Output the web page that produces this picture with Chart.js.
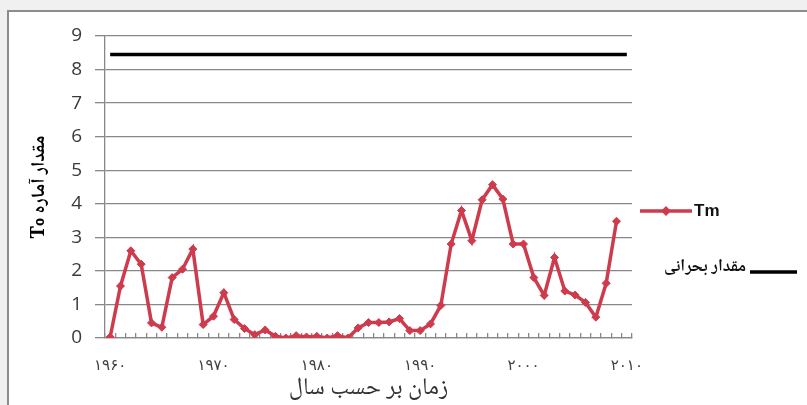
<!DOCTYPE html>
<html>
<head>
<meta charset="utf-8">
<script src="https://cdn.jsdelivr.net/npm/chart.js@4.4.1/dist/chart.umd.min.js"></script>
<style>
html,body{margin:0;padding:0;background:#f0f0f0;}
#wrap{position:absolute;left:0;top:0;width:807px;height:405px;}
canvas{display:block;}
</style>
</head>
<body>
<div id="wrap"><canvas id="c" width="807" height="405" dir="rtl"></canvas></div>
<script>
// ---- data ----
const years = [1960,1961,1962,1963,1964,1965,1966,1967,1968,1969,
               1970,1971,1972,1973,1974,1975,1976,1977,1978,1979,
               1980,1981,1982,1983,1984,1985,1986,1987,1988,1989,
               1990,1991,1992,1993,1994,1995,1996,1997,1998,1999,
               2000,2001,2002,2003,2004,2005,2006,2007,2008,2009,
               2010];
const xTickLabels = ['۱۹۶۰','۱۹۷۰','۱۹۸۰','۱۹۹۰','۲۰۰۰','۲۰۱۰'];
const tmValues = [0.03,1.55,2.6,2.2,0.45,0.32,1.8,2.05,2.65,0.4,
                  0.65,1.35,0.55,0.28,0.1,0.24,0.05,0.0,0.07,0.03,
                  0.05,0.0,0.07,0.0,0.3,0.46,0.46,0.48,0.58,0.22,
                  0.22,0.42,0.97,2.8,3.8,2.9,4.12,4.57,4.14,2.8,
                  2.8,1.8,1.27,2.4,1.4,1.28,1.06,0.62,1.63,3.48];
const criticalValues = [8.45,8.45,8.45,8.45,8.45,8.45,8.45,8.45,8.45,8.45,
                        8.45,8.45,8.45,8.45,8.45,8.45,8.45,8.45,8.45,8.45,
                        8.45,8.45,8.45,8.45,8.45,8.45,8.45,8.45,8.45,8.45,
                        8.45,8.45,8.45,8.45,8.45,8.45,8.45,8.45,8.45,8.45,
                        8.45,8.45,8.45,8.45,8.45,8.45,8.45,8.45,8.45,8.45,
                        8.45];
const seriesNames = ['Tm','مقدار بحرانی'];
const yTitle = 'مقدار آماره T₀';
const xTitle = 'زمان بر حسب سال';

const TM_COLOR = '#cd3b4d';
const GRID = '#888888';
const FA = '"Noto Naskh Arabic", "Noto Sans Arabic", "DejaVu Sans", sans-serif';

const frame = {
  id:'frame',
  beforeDraw(chart){
    const c = chart.ctx;
    c.save();
    c.fillStyle = '#f0f0f0';
    c.fillRect(0,0,chart.width,chart.height);
    c.fillStyle = '#ffffff';
    c.fillRect(8,11,chart.width-8,chart.height-11);
    c.strokeStyle = '#8c8c8c';
    c.lineWidth = 2;
    c.beginPath();
    c.moveTo(8,chart.height); c.lineTo(8,11); c.lineTo(chart.width,11);
    c.stroke();
    c.restore();
  }
};

const legendPlugin = {
  id:'customLegend',
  afterDraw(chart){
    const c = chart.ctx;
    const ds = chart.data.datasets;
    c.save();
    c.direction = 'ltr';
    // Tm item: line + marker, text on right
    c.strokeStyle = ds[0].borderColor;
    c.lineWidth = 3.5;
    c.beginPath(); c.moveTo(640,211); c.lineTo(692,211); c.stroke();
    c.fillStyle = ds[0].borderColor;
    c.beginPath(); c.moveTo(666,206); c.lineTo(671,211); c.lineTo(666,216); c.lineTo(661,211); c.closePath(); c.fill();
    c.fillStyle = '#111';
    c.font = 'bold 17px "Liberation Sans", Arial, sans-serif';
    c.textAlign = 'left'; c.textBaseline = 'middle';
    c.fillText(ds[0].label, 694, 211);
    // critical item: text, then line on right
    c.direction = 'rtl';
    c.font = 'bold 17px ' + FA;
    c.textAlign = 'right';
    c.fillText(ds[1].label, 746, 269);
    c.strokeStyle = ds[1].borderColor;
    c.lineWidth = 3.5;
    c.beginPath(); c.moveTo(750,272); c.lineTo(797,272); c.stroke();
    c.restore();
  }
};

new Chart(document.getElementById('c'), {
  type:'line',
  data:{
    labels: years,
    datasets:[
      {label:seriesNames[0], data:tmValues, borderColor:TM_COLOR, backgroundColor:TM_COLOR,
       borderWidth:3.5, pointStyle:'rectRot', pointRadius:4, pointHoverRadius:4,
       pointBackgroundColor:TM_COLOR, pointBorderColor:TM_COLOR, pointBorderWidth:1, tension:0, order:1},
      {label:seriesNames[1], data:criticalValues, borderColor:'#000000', backgroundColor:'#000000',
       borderWidth:3.5, pointRadius:0, pointHoverRadius:0, tension:0, order:2}
    ]
  },
  options:{
    responsive:false,
    animation:false,
    devicePixelRatio:1,
    events:[],
    layout:{padding:{left:0,top:36,right:175,bottom:0}},
    plugins:{legend:{display:false}, tooltip:{enabled:false}},
    scales:{
      x:{
        type:'category',
        offset:true,
        grid:{offset:true, display:true, drawOnChartArea:false, drawTicks:true, tickLength:-5, color:GRID, lineWidth:1.3},
        border:{display:true, color:GRID, width:1.3},
        ticks:{autoSkip:false, maxRotation:0, minRotation:0, padding:24, color:'#404040',
               font:{family:'"DejaVu Sans", sans-serif', size:15},
               callback:(v,i)=> (i%10===0 ? xTickLabels[i/10] : '')},
        title:{display:true, text:xTitle, color:'#333333',
               font:{family:FA, size:24}, padding:{top:0,bottom:0}},
        afterFit:(s)=>{ s.height = 67; }
      },
      y:{
        min:0, max:9,
        grid:{color:GRID, lineWidth:1.3, tickLength:10, drawTicks:true},
        border:{display:true, color:GRID, width:1.3},
        ticks:{stepSize:1, padding:13, color:'#3a3a3a',
               font:{family:'"Open Sans", sans-serif', size:19}},
        title:{display:true, text:yTitle, color:'#000',
               font:{family:FA, size:19, weight:'bold'}, padding:{top:30,bottom:0}},
        afterFit:(s)=>{ s.width = 105; }
      }
    }
  },
  plugins:[frame, legendPlugin]
});
</script>
</body>
</html>
